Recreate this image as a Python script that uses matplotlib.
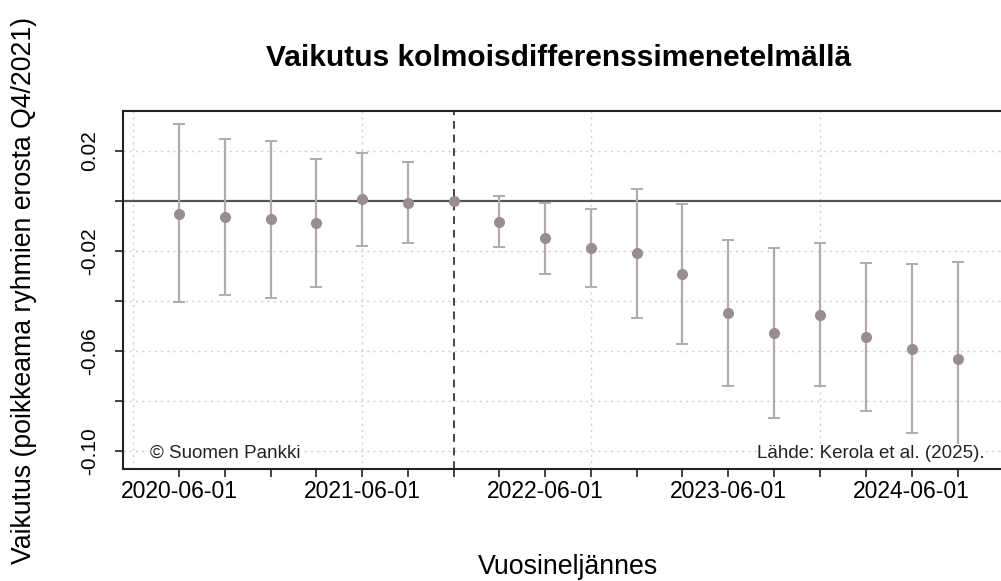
import numpy as np
import pandas as pd
import matplotlib

matplotlib.use("Agg")
import matplotlib.pyplot as plt
import matplotlib.dates as mdates

plt.rcParams["font.family"] = ["Liberation Sans", "DejaVu Sans"]

# quarterly estimates, reference quarter 2021-12-01 fixed at zero
quarters = pd.date_range("2020-06-01", "2024-09-01", freq="3MS")
effect = [-0.0051, -0.0065, -0.0073, -0.0088, 0.0007, -0.0007, 0.0,
          -0.0084, -0.0149, -0.0188, -0.0209, -0.0293, -0.0449, -0.0529,
          -0.0456, -0.0545, -0.0592, -0.0633]
lower = [-0.0405, -0.0376, -0.0387, -0.0344, -0.0179, -0.0168, 0.0,
         -0.0184, -0.0291, -0.0343, -0.0469, -0.0573, -0.0741, -0.0869,
         -0.0741, -0.0841, -0.0927, -0.1015]
upper = [0.0308, 0.0247, 0.0241, 0.0168, 0.0191, 0.0155, 0.0,
         0.0019, -0.0009, -0.0033, 0.0049, -0.0013, -0.0156, -0.0189,
         -0.0169, -0.0247, -0.0253, -0.0245]
ref_quarter = pd.Timestamp("2021-12-01")
label_dates = pd.to_datetime(["2020-06-01", "2021-06-01", "2022-06-01",
                              "2023-06-01", "2024-06-01"])
vgrid_dates = pd.to_datetime(["2020-03-01", "2021-06-01", "2022-09-01",
                              "2023-12-01"])
ytick_vals = [0.02, 0.0, -0.02, -0.04, -0.06, -0.08, -0.10]
ytick_labels = ["0.02", "", "-0.02", "", "-0.06", "", "-0.10"]

W, H = 1001, 581
fig = plt.figure(figsize=(W / 100, H / 100), dpi=100)
ax = fig.add_axes([123 / W, (H - 469) / H, (1014 - 123) / W, (469 - 111) / H])

x = mdates.date2num(quarters)
eff = np.array(effect)
lo = np.array(lower)
hi = np.array(upper)
has_bar = quarters != ref_quarter

# grid
for yv in ytick_vals:
    if yv != 0.0:
        ax.axhline(yv, color="#cfcfcf", lw=1.0, ls=(0, (1.5, 3)), zorder=1)
for d in vgrid_dates:
    ax.axvline(mdates.date2num(d), color="#cfcfcf", lw=1.0, ls=(0, (1.5, 3)),
               zorder=1)
ax.axhline(0.0, color="#555555", lw=1.6, zorder=2)
ax.axvline(mdates.date2num(ref_quarter), color="#444444", lw=1.4,
           ls=(0, (4, 3)), zorder=2)

ax.errorbar(x[has_bar], eff[has_bar],
            yerr=[eff[has_bar] - lo[has_bar], hi[has_bar] - eff[has_bar]],
            fmt="none", ecolor="#b5aaaa", elinewidth=1.6, capsize=4.5,
            capthick=1.4, zorder=3)
ax.plot(x, eff, "o", color="#9b8d8d", ms=8, mec="none", zorder=4)

pad = 112
ax.set_xlim(x[0] - pad, x[-1] + pad)
ax.set_ylim(-0.1072, 0.036)

ax.set_xticks(x)
ax.set_xticklabels([d.strftime("%Y-%m-%d") if d in label_dates else ""
                    for d in quarters], fontsize=16.5)
ax.set_yticks(ytick_vals)
ax.set_yticklabels(ytick_labels, fontsize=15, rotation=90, va="center")
ax.tick_params(axis="both", length=6, width=1.2, color="#222222", pad=2)
ax.tick_params(axis="y", pad=11)
for s in ax.spines.values():
    s.set_linewidth(1.5)
    s.set_color("#222222")

ax.text(0.03, 0.045, "\u00a9 Suomen Pankki", transform=ax.transAxes,
        fontsize=13.5, ha="left", va="center", color="#222222", zorder=6,
        bbox=dict(fc="white", ec="none", pad=0.5))
ax.text(985 / W, (H - 453) / H, "L\u00e4hde: Kerola et al. (2025).",
        transform=fig.transFigure, fontsize=13.5, ha="right", va="center",
        color="#222222", zorder=6, bbox=dict(fc="white", ec="none", pad=0.5))

fig.text(559 / W, (H - 58) / H, "Vaikutus kolmoisdifferenssimenetelm\u00e4ll\u00e4",
         fontsize=21.5, fontweight="bold", ha="center", va="center")
fig.text(568 / W, (H - 567) / H, "Vuosinelj\u00e4nnes", fontsize=19.3,
         ha="center", va="center")
fig.text(24 / W, (H - 291) / H, "Vaikutus (poikkeama ryhmien erosta Q4/2021)",
         fontsize=19.2, rotation=90, ha="center", va="center")

fig.savefig("out.png", dpi=100)
